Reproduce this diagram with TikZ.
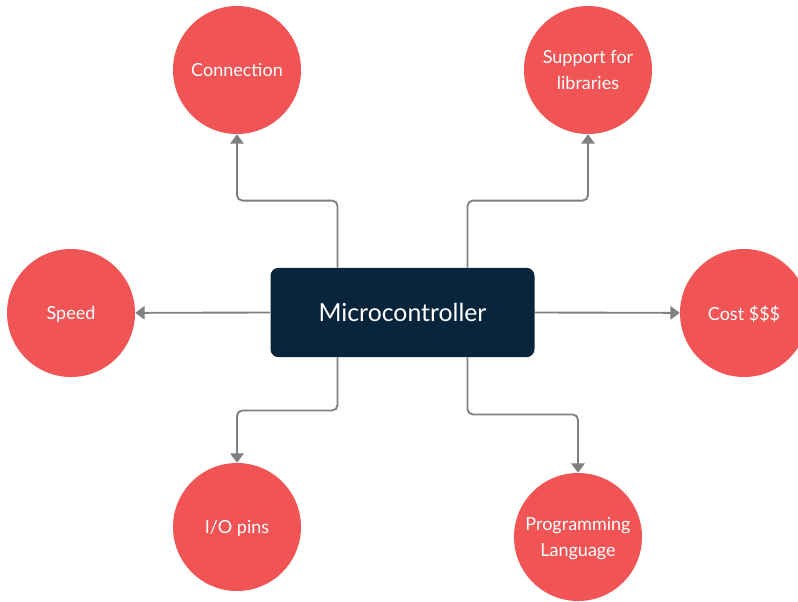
\documentclass[tikz,border=0pt]{standalone}
\usepackage{fontspec}
\setmainfont{Lato}
\usepackage{tikz}
\usetikzlibrary{arrows.meta}
\definecolor{bubblered}{RGB}{240,84,84}
\definecolor{boxnavy}{RGB}{8,37,60}
\definecolor{linkgray}{RGB}{128,128,128}

\begin{document}
\begin{tikzpicture}[x=0.75pt,y=-0.75pt,
  idea/.style={circle,fill=bubblered,text=white,minimum size=96pt,inner sep=0pt,
    align=center,text depth=0pt,font=\fontsize{13.5}{19}\selectfont},
  hub/.style={rectangle,rounded corners=6pt,fill=boxnavy,text=white,
    minimum width=198pt,minimum height=67pt,text depth=0pt,font=\fontsize{18.6}{22}\selectfont},
  link/.style={draw=linkgray,line width=1.4pt,rounded corners=4pt,
    -{Triangle[width=10pt,length=7pt]}}]
\useasboundingbox (0,0) rectangle (798,601);
\node[hub] (mc) at (402.5,312.5) {Microcontroller};
\node[idea] (conn) at (237,70) {Connection};
\node[idea] (libs) at (588,70) {Support for\\libraries};
\node[idea] (speed) at (71,313) {Speed};
\node[idea] (cost) at (744,313) {Cost \$\$\$};
\node[idea] (pins) at (237,527) {I/O pins};
\node[idea] (lang) at (578,537) {Programming\\Language};
% connectors from the hub
\draw[link] ([xshift=-48.75pt]mc.north) -- ++(0,-67) -| (conn);
\draw[link] ([xshift=48.75pt]mc.north) -- ++(0,-67) -| (libs);
\draw[link] ([xshift=-48.75pt]mc.south) -- ++(0,53) -| (pins);
\draw[link] ([xshift=48.75pt]mc.south) -- ++(0,57) -| (lang);
\draw[link] (mc.west) -- (speed);
\draw[link] (mc.east) -- (cost);
\end{tikzpicture}
\end{document}
